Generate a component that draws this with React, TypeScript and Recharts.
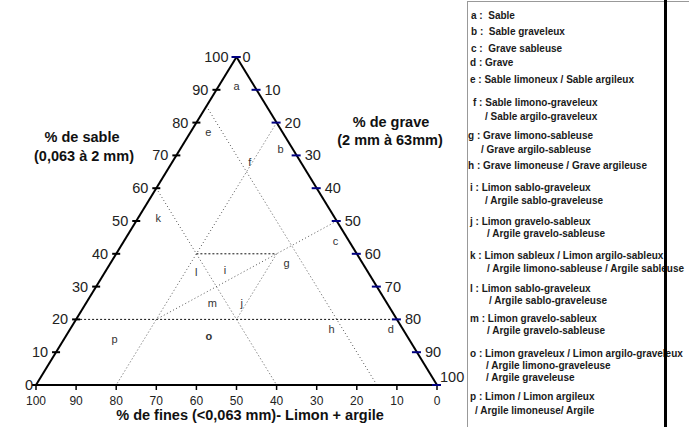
import { ReferenceLine, Scatter, ScatterChart, XAxis, YAxis } from "recharts";

const FONT = '"Liberation Sans", Arial, sans-serif';
const NAVY = "#000080";

// axis ticks (percent)
const sandTicks = [0, 10, 20, 30, 40, 50, 60, 70, 80, 90, 100];
const graveTicks = [0, 10, 20, 30, 40, 50, 60, 70, 80, 90, 100];
const finesTicks = [100, 90, 80, 70, 60, 50, 40, 30, 20, 10, 0];

// class boundaries, endpoints as [sable, grave]
const dottedFrom = [[85, 0], [80, 20], [60, 0], [50, 50], [40, 40]];
const dottedTo = [[0, 85], [0, 20], [0, 60], [20, 20], [20, 40]];
const dashedFrom = [[40, 20], [20, 0]];
const dashedTo = [[40, 40], [20, 80]];

// zone letters inside the triangle
const zoneLetters = ["a", "b", "c", "d", "e", "f", "g", "h", "i", "j", "k", "l", "m", "o", "p"];
const zoneSable = [91, 72, 44, 17, 77, 68, 37, 17, 35, 25, 51, 34.5, 25, 15, 14];
const zoneGrave = [4.5, 25, 52.7, 80, 4.5, 19.3, 44, 65.2, 29.6, 38.8, 5, 22.7, 31.5, 35.6, 12.6];

const legendNames: string[][] = [
  ["Sable"],
  ["Sable graveleux"],
  ["Grave sableuse"],
  ["Grave"],
  ["Sable limoneux / Sable argileux"],
  ["Sable limono-graveleux", "/ Sable argilo-graveleux"],
  ["Grave limono-sableuse", "/ Grave argilo-sableuse"],
  ["Grave limoneuse / Grave argileuse"],
  ["Limon sablo-graveleux", "/ Argile sablo-graveleuse"],
  ["Limon gravelo-sableux", "/ Argile gravelo-sableuse"],
  ["Limon sableux / Limon argilo-sableux", "/ Argile limono-sableuse / Argile sableuse"],
  ["Limon sablo-graveleux", "/ Argile sablo-graveleuse"],
  ["Limon gravelo-sableux", "/ Argile gravelo-sableuse"],
  ["Limon graveleux / Limon argilo-graveleux", "/ Argile limono-graveleuse", "/ Argile graveleuse"],
  ["Limon / Limon argileux", "/ Argile limoneuse/ Argile"],
];

// legend layout: line centres, first line x, continuation x
const legendY = [[16], [32], [49], [63], [80], [103, 117], [136, 150], [166], [188, 201], [222, 234], [256, 269], [289, 301], [319, 331], [354, 366, 378], [397, 411]];
const legendX = [471, 471, 471, 470, 470, 473, 468, 468, 470, 470, 470, 470, 470, 470, 470];
const legendIndent = [0, 0, 0, 0, 0, 485, 481, 0, 485, 487, 487, 489, 487, 486, 475];

const toXY = (s: number, g: number) => ({ x: g + s / 2, y: s });

const sandData = sandTicks.map((v) => ({ ...toXY(v, 0), v }));
const graveData = graveTicks.map((v) => ({ ...toXY(100 - v, v), v }));
const finesData = finesTicks.map((v) => ({ ...toXY(0, 100 - v), v }));
const zoneData = zoneLetters.map((t, i) => ({ ...toXY(zoneSable[i], zoneGrave[i]), t }));

const SandTick = (props: any) => {
  const { cx, cy, payload } = props;
  return (
    <g>
      <line x1={cx - 4} x2={cx + 4} y1={cy} y2={cy} stroke="#000" strokeWidth={2} />
      <text x={cx - (payload.v === 0 ? 3 : 8)} y={cy} dy="0.35em" textAnchor="end" fontSize={14.5} fontFamily={FONT} fill="#222">
        {payload.v}
      </text>
    </g>
  );
};

const GraveTick = (props: any) => {
  const { cx, cy, payload } = props;
  const last = payload.v === 100;
  return (
    <g>
      <line x1={cx - 5} x2={cx + 4} y1={cy} y2={cy} stroke={NAVY} strokeWidth={2} />
      <text x={cx + (last ? 3 : payload.v === 0 ? 6 : 8)} y={cy - (last ? 8 : 0)} dy="0.35em" fontSize={14.5} fontFamily={FONT} fill="#222">
        {payload.v}
      </text>
    </g>
  );
};

const FinesTick = (props: any) => {
  const { cx, cy, payload } = props;
  return (
    <g>
      <line x1={cx} x2={cx} y1={cy} y2={cy + 5} stroke="#000" strokeWidth={1.5} />
      <text x={cx} y={cy + 16} dy="0.35em" textAnchor="middle" fontSize={12} fontFamily={FONT} fill="#222">
        {payload.v}
      </text>
    </g>
  );
};

const ZoneLabel = (props: any) => {
  const { cx, cy, payload } = props;
  return (
    <text x={cx} y={cy} dy="0.35em" textAnchor="middle" fontSize={11} fontFamily={FONT} fill="#333" fontWeight={payload.t === "o" ? "bold" : "normal"}>
      {payload.t}
    </text>
  );
};

const titleStyle = (left: number, top: number): React.CSSProperties => ({
  position: "absolute",
  left,
  top,
  transform: "translate(-50%, -50%)",
  whiteSpace: "nowrap",
  fontFamily: FONT,
  fontWeight: "bold",
  fontSize: 14.5,
  lineHeight: "16px",
  color: "#111",
});

export default function App() {
  const apex = toXY(100, 0);
  const left = toXY(0, 0);
  const right = toXY(0, 100);
  return (
    <div style={{ position: "absolute", left: 0, top: 0, width: 689, height: 427, background: "#fff", overflow: "hidden" }}>
      <ScatterChart width={689} height={427} margin={{ top: 57, right: 252, bottom: 42, left: 36 }}>
        <XAxis type="number" dataKey="x" domain={[0, 100]} hide />
        <YAxis type="number" dataKey="y" domain={[0, 100]} hide />
        {dottedFrom.map((a, i) => (
          <ReferenceLine
            key={`dot${i}`}
            segment={[toXY(a[0], a[1]), toXY(dottedTo[i][0], dottedTo[i][1])]}
            stroke="#555"
            strokeWidth={1}
            strokeDasharray="1 2.5"
            ifOverflow="visible"
          />
        ))}
        {dashedFrom.map((a, i) => (
          <ReferenceLine
            key={`dash${i}`}
            segment={[toXY(a[0], a[1]), toXY(dashedTo[i][0], dashedTo[i][1])]}
            stroke="#111"
            strokeWidth={1}
            strokeDasharray="2 2"
            ifOverflow="visible"
          />
        ))}
        <ReferenceLine segment={[left, apex]} stroke="#000" strokeWidth={2} ifOverflow="visible" />
        <ReferenceLine segment={[apex, right]} stroke="#000" strokeWidth={2} ifOverflow="visible" />
        <ReferenceLine segment={[left, right]} stroke="#000" strokeWidth={2} ifOverflow="visible" />
        <Scatter data={finesData} shape={FinesTick} isAnimationActive={false} />
        <Scatter data={sandData} shape={SandTick} isAnimationActive={false} />
        <Scatter data={graveData} shape={GraveTick} isAnimationActive={false} />
        <Scatter data={zoneData} shape={ZoneLabel} isAnimationActive={false} />
      </ScatterChart>

      <div style={titleStyle(82, 137)}>% de sable</div>
      <div style={titleStyle(84, 156)}>(0,063 à 2 mm)</div>
      <div style={titleStyle(391, 122)}>% de grave</div>
      <div style={titleStyle(390, 140)}>(2 mm à 63mm)</div>
      <div style={titleStyle(250, 415)}>% de fines (&lt;0,063 mm)- Limon + argile</div>

      <div
        style={{
          position: "absolute",
          left: 467,
          top: 1,
          width: 240,
          height: 440,
          borderLeft: "1px solid #999",
          borderTop: "1px solid #999",
        }}
      />
      {legendNames.map((lines, i) =>
        lines.map((line, j) => (
          <div
            key={`${i}-${j}`}
            style={{
              position: "absolute",
              left: j === 0 ? legendX[i] : legendIndent[i],
              top: legendY[i][j] - 6,
              lineHeight: "12px",
              whiteSpace: "pre",
              fontFamily: FONT,
              fontWeight: "bold",
              fontSize: 10,
              color: "#1a1a1a",
            }}
          >
            {j === 0 ? `${zoneLetters[i]} :${i < 3 ? "  " : " "}${line}` : line}
          </div>
        ))
      )}
      <div style={{ position: "absolute", left: 664, top: 0, width: 2.5, height: 427, background: "#000" }} />
    </div>
  );
}
